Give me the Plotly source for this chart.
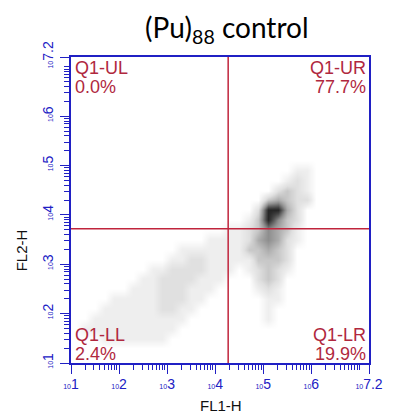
import math
import plotly.graph_objects as go

TITLE = "(Pu)<sub>88</sub> control"
X_TITLE = "FL1-H"
Y_TITLE = "FL2-H"

# Event density on a log10 grid (0 = empty, 9 = densest); first row is the top
FL1_LOG_BINS = [1.1, 1.3, 1.5, 1.7, 1.9, 2.1, 2.3, 2.5, 2.7, 2.9, 3.1, 3.3, 3.5,
                3.7, 3.9, 4.1, 4.3, 4.5, 4.7, 4.9, 5.1, 5.3, 5.5, 5.7, 5.9, 6.1]
FL2_LOG_BINS = [5.1, 4.9, 4.7, 4.5, 4.3, 4.1, 3.9, 3.7, 3.5, 3.3, 3.1,
                2.9, 2.7, 2.5, 2.3, 2.1, 1.9, 1.7, 1.5, 1.3, 1.1]
DENSITY_ROWS = [
    "00000000000000000000000000",
    "00000000000000000000000110",
    "00000000000000000000001210",
    "00000000000000000000023210",
    "00000000000000000000343220",
    "00000000000000000002884200",
    "00000000000000000013853200",
    "00000000000000001123543100",
    "00000000000000111124542100",
    "00000000000111111133432000",
    "00000000001122111113332000",
    "00000000112222111012321000",
    "00000001122221110002320000",
    "00000011122211100001210000",
    "00001111122211000000110000",
    "00011111122110000000100000",
    "00111111111100000000100000",
    "01111111111000000000000000",
    "00011111110000000000000000",
    "00000000000000000000000000",
    "00000000000000000000000000",
]

# Quadrant gate (log10 units) and quadrant statistics
GATE_FL1 = 4.27
GATE_FL2 = 3.72
QUAD_NAMES = ["Q1-UL", "Q1-UR", "Q1-LL", "Q1-LR"]
QUAD_PCT = ["0.0%", "77.7%", "2.4%", "19.9%"]

DECADES = [1, 2, 3, 4, 5, 6]
AXIS_MIN = 1.0
AXIS_MAX = 7.2

BLUE = "#2020c4"
RED = "#c0243c"
TXT_RED = "#b0283e"

z = [[int(c) for c in row] for row in DENSITY_ROWS][::-1]
ybins = FL2_LOG_BINS[::-1]

fig = go.Figure()
fig.add_trace(go.Heatmap(
    x=FL1_LOG_BINS, y=ybins, z=z, zmin=0, zmax=9, zsmooth="best",
    showscale=False, hoverinfo="skip",
    colorscale=[
        [0.0, "#ffffff"], [1 / 9, "#eeeeee"], [2 / 9, "#e0e0e0"],
        [3 / 9, "#c8c8c8"], [4 / 9, "#acacac"], [5 / 9, "#8e8e8e"],
        [6 / 9, "#686868"], [7 / 9, "#444444"], [8 / 9, "#262626"],
        [1.0, "#111111"],
    ],
))


def decade_label(p):
    return "<span style='font-size:7px'>10</span>%s" % p


major_vals = DECADES + [AXIS_MAX]
major_text = [decade_label(d) for d in DECADES] + [decade_label("7.2")]
minor_vals = [d + math.log10(k) for d in range(1, 8) for k in range(1, 10)
              if d + math.log10(k) <= AXIS_MAX and not (k == 1 and d < 7)]

axis_common = dict(
    range=[AXIS_MIN, AXIS_MAX], showgrid=False, zeroline=False,
    showline=True, linecolor=BLUE, linewidth=1.5, mirror=True,
    tickmode="array", tickvals=major_vals, ticktext=major_text,
    ticks="outside", ticklen=9, tickcolor=BLUE, tickwidth=1.3,
    tickfont=dict(family="Liberation Sans", size=14, color=BLUE),
    minor=dict(tickmode="array", tickvals=minor_vals, ticks="outside",
               ticklen=5, tickcolor=BLUE, tickwidth=1.3),
)

fig.update_xaxes(**axis_common, ticklabelstandoff=-2)
fig.update_yaxes(**axis_common, tickangle=-90, ticklabelstandoff=2)

# quadrant gate lines
fig.add_shape(type="line", x0=GATE_FL1, x1=GATE_FL1, y0=AXIS_MIN, y1=AXIS_MAX,
              line=dict(color=RED, width=1.5), layer="above")
fig.add_shape(type="line", x0=AXIS_MIN, x1=AXIS_MAX, y0=GATE_FL2, y1=GATE_FL2,
              line=dict(color=RED, width=1.5), layer="above")

qfont = dict(family="Liberation Sans", size=18, color=TXT_RED)
quad_pos = [
    (0.006, "left", 0.964, 0.902),
    (0.997, "right", 0.964, 0.902),
    (0.006, "left", 0.0915, 0.029),
    (0.997, "right", 0.0915, 0.029),
]
for name, pct, (qx, anchor, y1, y2) in zip(QUAD_NAMES, QUAD_PCT, quad_pos):
    for txt, qy in ((name, y1), (pct, y2)):
        fig.add_annotation(text=txt, x=qx, y=qy, xref="paper", yref="paper",
                           xanchor=anchor, yanchor="middle", showarrow=False,
                           font=qfont)

fig.add_annotation(text=X_TITLE, x=0.502, y=-0.1405, xref="paper", yref="paper",
                   xanchor="center", yanchor="middle", showarrow=False,
                   font=dict(family="Liberation Sans", size=15, color="#111111"))
fig.add_annotation(text=Y_TITLE, x=-0.167, y=0.369, xref="paper", yref="paper",
                   xanchor="center", yanchor="middle", showarrow=False,
                   textangle=-90,
                   font=dict(family="Liberation Sans", size=15, color="#111111"))
fig.add_annotation(text=TITLE, x=0.525, y=1.09, xref="paper", yref="paper",
                   xanchor="center", yanchor="middle", showarrow=False,
                   font=dict(family="Lato", size=28, color="#000000"))

fig.update_layout(
    width=395, height=418,
    margin=dict(l=71, r=19, t=57, b=55),
    paper_bgcolor="white", plot_bgcolor="white",
    showlegend=False,
)

fig.write_html("out.html")
